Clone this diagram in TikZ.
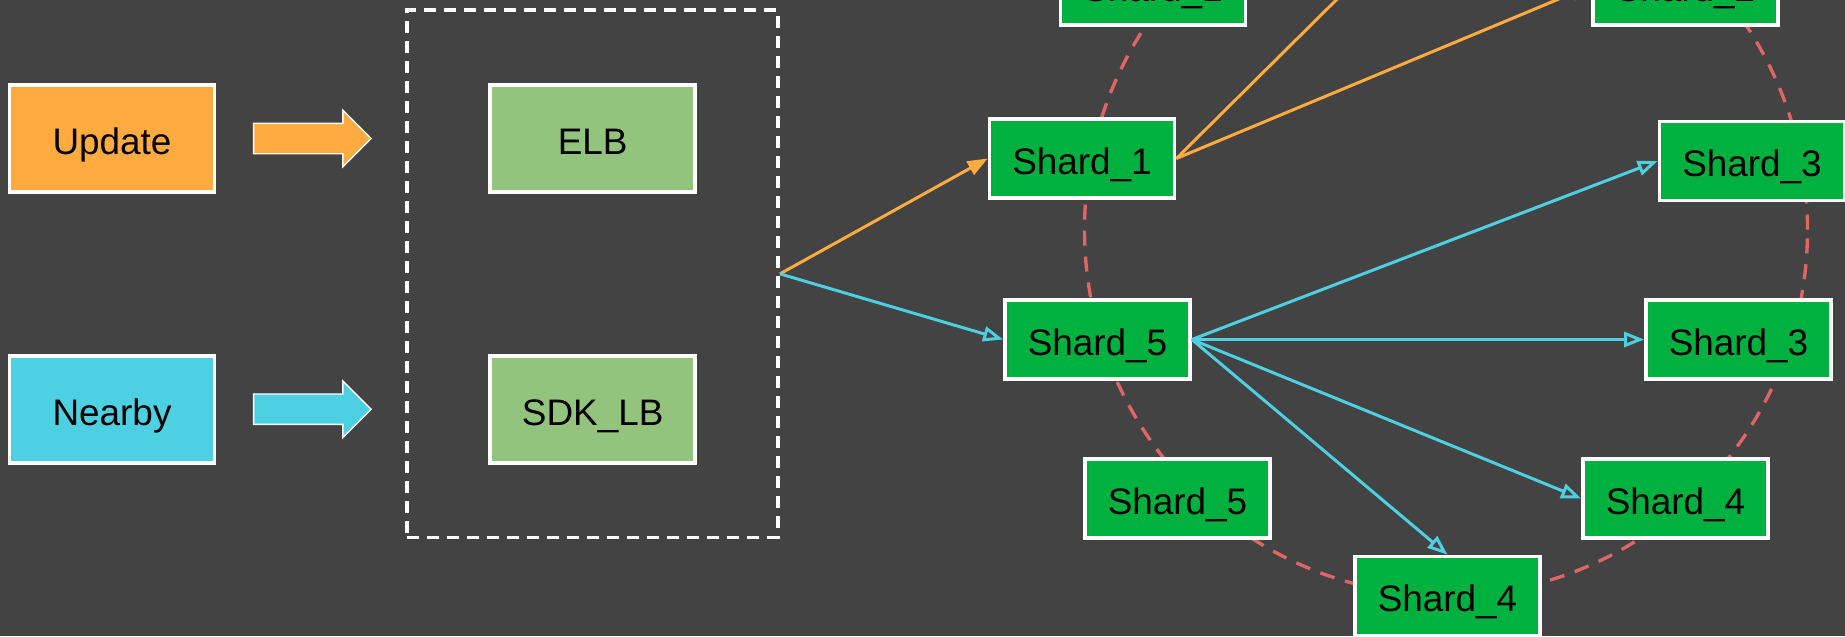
\documentclass[tikz,border=0pt]{standalone}
\usepackage{fontspec}
\setmainfont{Liberation Sans}
\usepackage{xcolor}
\usepackage{tikz}
\usetikzlibrary{positioning, arrows.meta, fit, shapes.arrows}

\definecolor{bg}{HTML}{434343}
\definecolor{upd}{HTML}{FFAB40}
\definecolor{near}{HTML}{4DD0E1}
\definecolor{lbgreen}{HTML}{93C47D}
\definecolor{shardgreen}{HTML}{00B140}
\definecolor{ringred}{HTML}{E06666}

\begin{document}
\begin{tikzpicture}[
      node distance=3.2cm and 5.44cm,
      box/.style={draw=white, line width=2.1pt, minimum width=4.1cm, minimum height=2.14cm, inner sep=0pt, text height=18pt, text depth=0pt, font=\fontsize{21}{25}\selectfont},
      lb/.style={box, fill=lbgreen},
      shard/.style={box, fill=shardgreen, minimum width=3.7cm, minimum height=1.58cm},
      fat/.style={single arrow, draw=white, line width=0.8pt, minimum height=2.35cm, minimum width=1.1cm, inner xsep=0pt, inner ysep=0.29cm, text height=0pt, text depth=0pt, single arrow head extend=0.26cm},
      group/.style={draw=white, line width=2.2pt, dash pattern=on 0.24cm off 0.16cm},
      ring/.style={draw=ringred, line width=1.9pt, dash pattern=on 0.3cm off 0.22cm},
      arr/.style={line width=1.7pt, -{Triangle[length=0.4cm, width=0.3cm]}},
      arrb/.style={line width=1.7pt, -{Triangle[open, length=0.4cm, width=0.3cm]}}
    ]
    \fill[bg] (0,0) rectangle (36.9,-12.72);
    \useasboundingbox (0,0) rectangle (36.9,-12.72);
    \clip (0,0) rectangle (36.9,-12.72);

    % hash ring
    \draw[ring] (28.92,-4.59) ellipse [x radius=7.23cm, y radius=7.32cm];

    \node[box, fill=upd] at (2.24,-2.77) (update) {Update};
    \node[box, fill=near, below=of update] (nearby) {Nearby};
    \node[fat, fill=upd, right=0.73cm of update] (updarrow) {};
    \node[fat, fill=near, right=0.73cm of nearby] (neararrow) {};

    \node[lb, right=of update] (elb) {ELB};
    \node[lb, right=of nearby] (sdk) {SDK\_LB};
    \node[group, fit=(elb)(sdk), inner xsep=1.62cm, inner ysep=1.46cm] (lbgroup) {};

    % shards on the ring
    \node[shard] at (21.64,-3.17) (s1) {Shard\_1};
    \node[shard] at (21.95,-6.79) (s5) {Shard\_5};
    \node[shard] at (23.06,0.29) (s1top) {Shard\_1};
    \node[shard] at (33.71,0.29) (s2top) {Shard\_2};
    \coordinate (s2hidden) at (28.76,2.02);
    \node[shard] at (35.04,-3.22) (s3a) {Shard\_3};
    \node[shard] at (34.77,-6.79) (s3b) {Shard\_3};
    \node[shard] at (33.51,-9.97) (s4a) {Shard\_4};
    \node[shard] at (28.95,-11.92) (s4b) {Shard\_4};
    \node[shard] at (23.55,-9.97) (s5b) {Shard\_5};

    \draw[arr, upd] (lbgroup.east) -- (s1.west);
    \draw[arrb, near] (lbgroup.east) -- (s5.west);
    \draw[arr, upd] (s1.east) -- (s2hidden);
    \draw[arr, upd] (s1.east) -- (s2top.west);
    \draw[arrb, near] (s5.east) -- (s3a.west);
    \draw[arrb, near] (s5.east) -- (s3b.west);
    \draw[arrb, near] (s5.east) -- (s4a.west);
    \draw[arrb, near] (s5.east) -- (s4b.north);
  \end{tikzpicture}
\end{document}
